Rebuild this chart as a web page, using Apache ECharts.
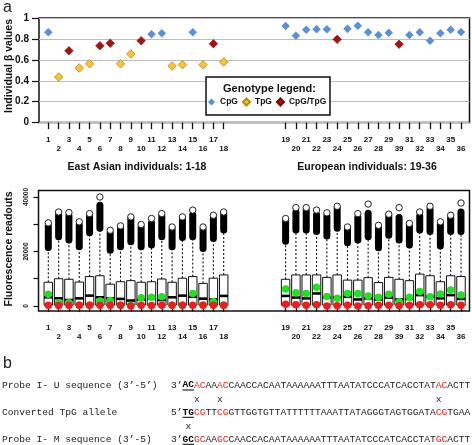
<!DOCTYPE html>
<html><head><meta charset="utf-8">
<script src="https://cdn.jsdelivr.net/npm/echarts@6/dist/echarts.min.js"></script>
<style>html,body{margin:0;padding:0;background:#fff}#c{width:472px;height:445px}</style>
</head><body><div id="c"></div>
<script>
// ---------- data ----------
const individuals = ['1','2','3','4','5','6','7','8','9','10','11','12','13','14','15','16','17','18',
  '19','20','21','22','23','24','25','26','27','28','29','39','31','32','33','34','35','36'];
const genotype = ['CpG','TpG','CpG/TpG','TpG','TpG','CpG/TpG','CpG/TpG','TpG','TpG','CpG/TpG','CpG','CpG','TpG','TpG','CpG','TpG','CpG/TpG','TpG',
  'CpG','CpG','CpG','CpG','CpG','CpG/TpG','CpG','CpG','CpG','CpG','CpG','CpG/TpG','CpG','CpG','CpG','CpG','CpG','CpG'];
const betaValues = [0.863,0.436,0.687,0.522,0.563,0.735,0.758,0.563,0.656,0.783,0.844,0.854,0.541,0.554,0.863,0.554,0.754,0.579,
  0.923,0.831,0.888,0.892,0.892,0.796,0.898,0.926,0.863,0.837,0.859,0.749,0.837,0.863,0.783,0.854,0.888,0.866];
const betaTicks = [0,0.2,0.4,0.6,0.8,1];

const boxQ1     = [300,300,300,300,300,300,300,300,300,300,300,300,300,300,300,300,300,300, 300,300,300,300,300,300,300,300,300,300,300,300,300,300,300,300,300,300];
const boxMedian = [3200,2800,2200,2800,3800,3200,2800,2600,2000,2400,2800,2200,3200,3800,3400,2700,2400,3700,
  3700,3100,2800,4600,3200,3100,3400,2400,2800,2400,3100,2400,2600,4000,3400,2800,4000,2600];
const boxQ3     = [8700,10000,9800,8800,10800,11100,8000,8900,9300,8700,8900,9900,8700,10200,10800,8300,10200,11400,
  9800,11400,11400,11400,10500,11400,9500,9500,10400,8600,10500,9800,9300,11700,11100,8900,11100,10800];
const outlierLow  = [21500,25400,24200,21700,26900,28500,20500,21700,23600,21700,22400,25400,21700,25100,25400,21100,24800,27900,
  23800,27900,27900,27300,25700,28500,23200,24200,25400,21400,26000,24200,22400,27900,27300,22000,27300,27300];
const outlierHigh = [29500,33500,33000,29800,33000,37000,27000,28500,32000,29000,30500,33000,28200,32000,33500,28000,32500,33800,
  31500,34500,35000,33500,33000,36000,28500,32500,34000,29000,33000,32500,29800,33000,35500,30000,32500,34500];
const outlierMax  = [30500,34500,34300,30900,33900,40000,27800,29400,32700,29900,32100,33900,29000,32700,35200,29000,33300,34500,
  32100,36100,36100,35200,34200,36600,29000,33900,37400,29600,33700,36100,30300,34500,36600,30900,33300,37800];
const greenValues = [4300,1200,1200,300,300,1800,2000,300,200,3000,3200,3400,300,300,4600,300,1600,300,
  6200,4900,4600,6900,3500,2800,4600,4600,3700,3200,4300,1600,3200,5300,3400,4400,5900,4000];
const redValues   = [300,200,300,300,300,300,300,300,0,300,200,300,300,300,300,300,300,300,
  600,500,300,500,0,100,300,0,100,300,300,100,300,500,500,300,500,300];
const fluoTicks  = [0,10000,20000,30000,40000];
const fluoLabels = [0,20000,40000];

const probeU    = 'ACACAAACCAACCACAATAAAAAATTTAATATCCCATCACCTATACACTT';
const convTpG   = 'TGCGTTCGGTTGGTGTTATTTTTTAAATTATAGGGTAGTGGATACGTGAA';
const probeM    = 'GCGCAAGCCAACCACAATAAAAAATTTAATATCCCATCACCTATGCACTT';
const redSites  = [2,3,6,7,44,45];
const boldSites = [0,1];
const mismatchU = [4,8,46];
const mismatchM = [2];

// ---------- helpers ----------
const slot = i => (i < 18 ? i + 1 : i + 6);
const slots = individuals.map((_, i) => slot(i));
const labelAt = v => { const i = slots.indexOf(Math.round(v)); if (i < 0) return ''; return (i % 2 === 0 ? '' : '\n') + individuals[i]; };
const SANS = "'Liberation Sans', Arial, sans-serif";
const MONO = "'Liberation Mono', 'Courier New', monospace";

const genoColors = { 'CpG': ['#5b8fd8', '#5b8fd8', 0], 'TpG': ['#f6c43c', '#b88a10', 0.8], 'CpG/TpG': ['#a81212', '#7a0a0a', 0.6] };
const scatterSeries = ['CpG','TpG','CpG/TpG'].map(g => ({
  name: g, type: 'scatter', xAxisIndex: 0, yAxisIndex: 0, symbol: 'diamond', symbolSize: 8.5,
  itemStyle: { color: genoColors[g][0], borderColor: genoColors[g][1], borderWidth: genoColors[g][2], opacity: 1 },
  data: betaValues.map((v, i) => genotype[i] === g ? [slot(i), v] : null).filter(d => d),
  z: 5
}));

const boxData = individuals.map((_, i) => [slot(i), boxQ1[i], boxMedian[i], boxQ3[i], outlierLow[i], outlierHigh[i], outlierMax[i]]);

function seqRich(prefix, seq) {
  let s = '{n|' + prefix + '}';
  for (let k = 0; k < seq.length; k++) {
    const c = seq[k];
    const tag = redSites.includes(k) ? 'r' : (boldSites.includes(k) ? 'b' : 'n');
    s += '{' + tag + '|' + c + '}';
  }
  return s;
}
function markRow(idx) {
  let s = '';
  for (let k = 0; k <= Math.max(...idx); k++) s += idx.includes(k) ? 'x' : ' ';
  return s;
}
const CW = 5.76, SEQX = 171;
const richStyle = {
  n: { fill: '#222', fontFamily: MONO, fontSize: 9.6 },
  r: { fill: '#e0241e', fontFamily: MONO, fontSize: 9.6 },
  b: { fill: '#000', fontFamily: MONO, fontSize: 9.6, fontWeight: 'bold' }
};
function seqText(y, prefix, seq) {
  return { type: 'text', x: SEQX, y: y, style: { text: seqRich(prefix, seq), rich: richStyle, verticalAlign: 'middle', align: 'left', font: '9.6px ' + MONO } };
}
function plain(x, y, t) {
  return { type: 'text', x: x, y: y, style: { text: t, fill: '#222', font: '9.6px ' + MONO, verticalAlign: 'middle', align: 'left' } };
}
function underline(y) {
  return { type: 'line', shape: { x1: SEQX + 2 * CW, y1: y, x2: SEQX + 4 * CW, y2: y }, style: { stroke: '#000', lineWidth: 1 } };
}

const chart = echarts.init(document.getElementById('c'), null, { renderer: 'canvas' });
chart.setOption({
  animation: false,
  backgroundColor: '#fff',
  textStyle: { fontFamily: SANS },
  grid: [
    { left: 39, right: 2.5, top: 18, bottom: 322.4, show: true, borderColor: '#111', borderWidth: 1.5, backgroundColor: 'transparent' },
    { left: 38.5, right: 2.5, top: 190.5, bottom: 134, show: true, borderColor: '#111', borderWidth: 1.5, backgroundColor: 'transparent' }
  ],
  xAxis: [
    { gridIndex: 0, type: 'value', min: 0.0986, max: 41.824, offset: 1.5,
      axisLine: { show: false }, splitLine: { show: false },
      axisTick: { show: true, customValues: slots, length: 6.5, lineStyle: { color: '#111', width: 1.3 } },
      axisLabel: { customValues: slots, formatter: labelAt, fontSize: 8, fontWeight: 'bold', color: '#111', lineHeight: 9.5, margin: 10.5, fontFamily: SANS } },
    { gridIndex: 1, type: 'value', min: 0.050, max: 41.824, offset: 1.5,
      axisLine: { show: false }, splitLine: { show: false },
      axisTick: { show: true, customValues: slots, length: 5.8, lineStyle: { color: '#111', width: 1.3 } },
      axisLabel: { customValues: slots, formatter: labelAt, fontSize: 8, fontWeight: 'bold', color: '#111', lineHeight: 9.7, margin: 10.2, fontFamily: SANS } }
  ],
  yAxis: [
    { gridIndex: 0, type: 'value', min: betaTicks[0], max: betaTicks[betaTicks.length - 1], interval: 0.2,
      axisLine: { show: false },
      axisTick: { show: true, length: 7, lineStyle: { color: '#111', width: 1.2 } },
      axisLabel: { fontSize: 10, fontWeight: 'bold', color: '#111', margin: 10, fontFamily: SANS, formatter: v => String(Math.round(v * 10) / 10) },
      splitLine: { show: true, lineStyle: { color: '#bdbdbd', width: 1 } } },
    { gridIndex: 1, type: 'value', min: -1835, max: 42385,
      axisLine: { show: false }, splitLine: { show: false },
      axisTick: { show: true, customValues: fluoTicks, length: 5, lineStyle: { color: '#111', width: 1.2 } },
      axisLabel: { customValues: fluoLabels, rotate: 90, fontSize: 6.5, fontWeight: 'bold', color: '#111', margin: 9, fontFamily: SANS, formatter: v => String(v) } }
  ],
  legend: {
    left: 208, top: 97.5, padding: 0, itemWidth: 7, itemHeight: 7, itemGap: 4, icon: 'diamond', z: 20,
    data: ['CpG', 'TpG', 'CpG/TpG'],
    textStyle: { fontSize: 8.5, fontWeight: 'bold', color: '#111', fontFamily: SANS }
  },
  series: scatterSeries.concat([
    { type: 'custom', xAxisIndex: 1, yAxisIndex: 1, clip: false, data: boxData, z: 3,
      renderItem: function (params, api) {
        const x = api.value(0);
        const q1 = api.coord([x, api.value(1)]);
        const md = api.coord([x, api.value(2)]);
        const q3 = api.coord([x, api.value(3)]);
        const lo = api.coord([x, api.value(4)]);
        const hi = api.coord([x, api.value(5)]);
        const mx = api.coord([x, api.value(6)]);
        const w = api.size([1, 0])[0] * 0.82;
        const cx = q1[0];
        return { type: 'group', children: [
          { type: 'line', shape: { x1: cx, y1: q3[1], x2: cx, y2: lo[1] }, style: { stroke: '#111', lineWidth: 1.1, lineDash: [2, 2] } },
          { type: 'rect', shape: { x: cx - w / 2, y: q3[1], width: w, height: q1[1] - q3[1] }, style: { fill: '#fff', stroke: '#111', lineWidth: 1 } },
          { type: 'rect', shape: { x: cx - w / 2, y: md[1] - 1.3, width: w, height: 2.6 }, style: { fill: '#000' } },
          { type: 'line', shape: { x1: cx, y1: lo[1], x2: cx, y2: hi[1] }, style: { stroke: '#000', lineWidth: 7, lineCap: 'round' } },
          { type: 'circle', shape: { cx: cx, cy: mx[1], r: 3.2 }, style: { fill: '#fff', stroke: '#222', lineWidth: 1 } }
        ] };
      } },
    { type: 'scatter', xAxisIndex: 1, yAxisIndex: 1, symbol: 'circle', symbolSize: 7.5, clip: false, z: 6,
      itemStyle: { color: '#22e022', opacity: 1 }, data: greenValues.map((v, i) => [slot(i), v]) },
    { type: 'scatter', xAxisIndex: 1, yAxisIndex: 1, symbol: 'circle', symbolSize: 7.5, clip: false, z: 7,
      itemStyle: { color: '#ee1c1c', opacity: 1 }, data: redValues.map((v, i) => [slot(i), v]) }
  ]),
  graphic: [
    { type: 'text', x: 3, y: 8, style: { text: 'a', font: '16px ' + SANS, fill: '#222', verticalAlign: 'middle' } },
    { type: 'text', x: 9, y: 66, rotation: Math.PI / 2, style: { text: 'Individual β values', font: 'bold 10.5px ' + SANS, fill: '#111', align: 'center', verticalAlign: 'middle' } },
    { type: 'rect', z: 10, shape: { x: 206, y: 77, width: 124, height: 38 }, style: { fill: '#fff', stroke: '#111', lineWidth: 1.5 } },
    { type: 'text', z: 11, x: 269.5, y: 88.5, style: { text: 'Genotype legend:', font: 'bold 11px ' + SANS, fill: '#111', align: 'center', verticalAlign: 'middle' } },
    { type: 'text', x: 137, y: 167, style: { text: 'East Asian individuals: 1-18', font: 'bold 10.5px ' + SANS, fill: '#111', align: 'center', verticalAlign: 'middle' } },
    { type: 'text', x: 367, y: 167, style: { text: 'European individuals: 19-36', font: 'bold 10.5px ' + SANS, fill: '#111', align: 'center', verticalAlign: 'middle' } },
    { type: 'text', x: 9.5, y: 249, rotation: Math.PI / 2, style: { text: 'Fluorescence readouts', font: 'bold 10.5px ' + SANS, fill: '#111', align: 'center', verticalAlign: 'middle' } },
    { type: 'text', x: 3, y: 364, style: { text: 'b', font: '16px ' + SANS, fill: '#222', verticalAlign: 'middle' } },
    plain(2, 385, 'Probe I- U sequence (3’-5’)'),
    seqText(385, '3’', probeU),
    underline(390),
    plain(SEQX, 399.5, markRow(mismatchU)),
    plain(2, 412.3, 'Converted TpG allele'),
    seqText(412.3, '5’', convTpG),
    underline(417.3),
    plain(SEQX + 0.5 * CW, 426, markRow(mismatchM)),
    plain(2, 439.3, 'Probe I- M sequence (3’-5)'),
    seqText(439.3, '3’', probeM),
    underline(444.3)
  ]
});
</script></body></html>
